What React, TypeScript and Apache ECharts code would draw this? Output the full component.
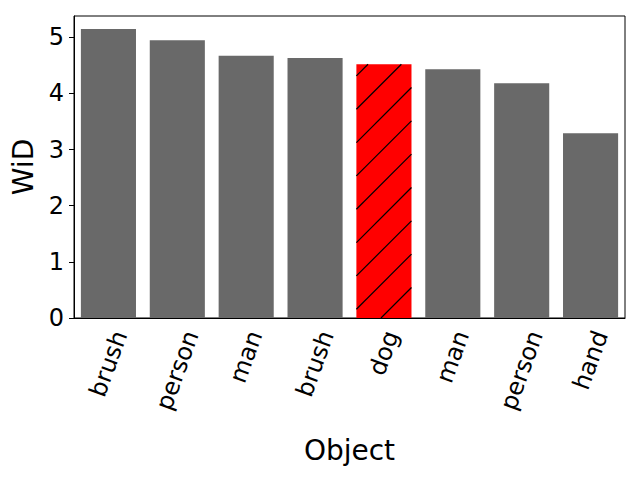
import React, { useEffect, useRef } from "react";
import * as echarts from "echarts";

const categories = ["brush", "person", "man", "brush", "dog", "man", "person", "hand"];
const values = [5.15, 4.95, 4.67, 4.63, 4.52, 4.43, 4.18, 3.29];
const highlightIndex = 4;
const yMax = 5.38;

const FONT = "'DejaVu Sans', sans-serif";
const TICK_FS = 24;
const NAME_FS = 28;

function measure(text: string, font: string): number {
  const ctx = document.createElement("canvas").getContext("2d");
  if (!ctx) return text.length * 12;
  ctx.font = font;
  return ctx.measureText(text).width;
}

export default function App() {
  const ref = useRef<HTMLDivElement>(null);
  useEffect(() => {
    if (!ref.current) return;
    const chart = echarts.init(ref.current, null, { renderer: "svg" });
    const rot = (70 * Math.PI) / 180;
    const option: any = {
      animation: false,
      grid: {
        left: 74,
        right: 15,
        top: 16,
        bottom: 162,
        show: true,
        borderColor: "#000",
        borderWidth: 1,
        backgroundColor: "transparent",
      },
      xAxis: {
        type: "category",
        data: categories,
        name: "Object",
        nameLocation: "middle",
        nameGap: 118,
        nameTextStyle: { fontFamily: FONT, fontSize: NAME_FS, color: "#000", verticalAlign: "top" },
        axisLine: { lineStyle: { color: "#000", width: 1 } },
        axisTick: { alignWithLabel: true, length: 5, lineStyle: { color: "#000" } },
        axisLabel: { show: false },
        splitLine: { show: false },
      },
      yAxis: {
        type: "value",
        min: 0,
        max: yMax,
        interval: 1,
        name: "WiD",
        nameLocation: "middle",
        nameGap: 31,
        nameRotate: 90,
        nameTextStyle: { fontFamily: FONT, fontSize: NAME_FS, color: "#000" },
        axisLine: { show: true, lineStyle: { color: "#000", width: 1 } },
        axisTick: { show: true, length: 5, lineStyle: { color: "#000" } },
        axisLabel: { fontFamily: FONT, fontSize: TICK_FS, color: "#000", margin: 10, showMaxLabel: false },
        splitLine: { show: false },
      },
      series: [
        {
          type: "bar",
          z: 2,
          barCategoryGap: "20%",
          data: values.map((v, i) => ({
            value: v,
            itemStyle: { color: i === highlightIndex ? "#ff0000" : "#696969" },
          })),
        },
        {
          type: "custom",
          z: 10,
          silent: true,
          clip: false,
          data: [[highlightIndex, values[highlightIndex]]],
          encode: { x: 0, y: 1 },
          renderItem: (params: any, api: any) => {
            const idx = api.value(0);
            const v = api.value(1);
            const top = api.coord([idx, v]);
            const bot = api.coord([idx, 0]);
            const w = api.size([1, 0])[0] * 0.8;
            const x0 = top[0] - w / 2;
            const x1 = top[0] + w / 2;
            const y0 = top[1];
            const y1 = bot[1];
            const step = 100 / 3;
            const base = 432.3;
            const children: any[] = [];
            const kStart = Math.floor((x0 + y0 - base) / step);
            const kEnd = Math.ceil((x1 + y1 - base) / step);
            for (let k = kStart; k <= kEnd; k++) {
              const c = base + k * step;
              const xa = Math.max(x0, c - y1);
              const xb = Math.min(x1, c - y0);
              if (xb - xa > 0.5) {
                children.push({
                  type: "line",
                  z2: 100,
                  shape: { x1: xa, y1: c - xa, x2: xb, y2: c - xb },
                  style: { stroke: "#000", lineWidth: 1.2 },
                });
              }
            }
            return { type: "group", children };
          },
        },
        {
          type: "custom",
          z: 10,
          silent: true,
          clip: false,
          data: categories.map((_, i) => [i, 0]),
          encode: { x: 0, y: 1 },
          renderItem: (params: any, api: any) => {
            const idx = api.value(0);
            const p = api.coord([idx, 0]);
            const text = categories[params.dataIndex];
            const L = measure(text, `${TICK_FS}px 'DejaVu Sans'`);
            const h = TICK_FS * 1.164;
            const bboxH = L * Math.sin(rot) + h * Math.cos(rot);
            return {
              type: "text",
              x: p[0],
              y: p[1] + 9 + bboxH / 2,
              rotation: rot,
              style: {
                text,
                fontFamily: FONT,
                fontSize: TICK_FS,
                fill: "#000",
                textAlign: "center",
                textVerticalAlign: "middle",
              },
            };
          },
        },
      ],
    };
    chart.setOption(option);
    return () => chart.dispose();
  }, []);
  return (
    <div
      ref={ref}
      style={{ position: "fixed", left: 0, top: 0, width: 640, height: 480, background: "#fff" }}
    />
  );
}
